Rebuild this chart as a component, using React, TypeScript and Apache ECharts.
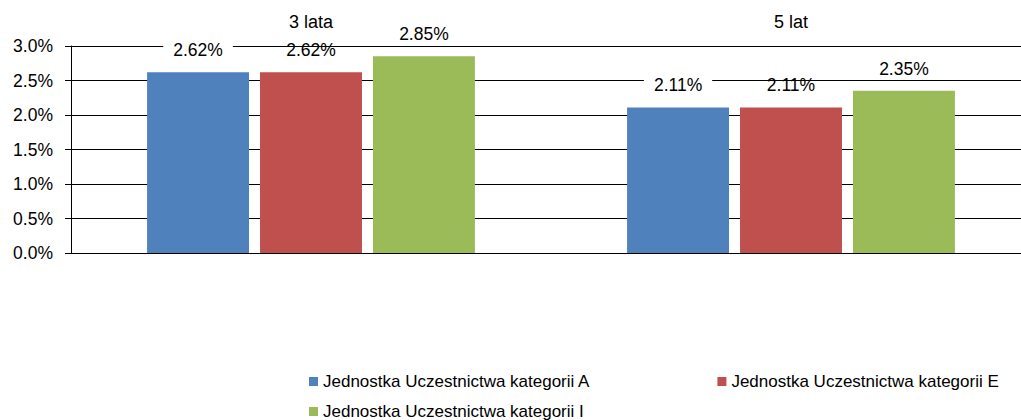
import React, { useEffect, useRef } from "react";
import * as echarts from "echarts";

const categories = ["3 lata", "5 lat"];
const seriesNames = [
  "Jednostka Uczestnictwa kategorii A",
  "Jednostka Uczestnictwa kategorii E",
  "Jednostka Uczestnictwa kategorii I",
];
const valuesA = [2.62, 2.11];
const valuesE = [2.62, 2.11];
const valuesI = [2.85, 2.35];
const colors = ["#4F81BD", "#C0504D", "#9BBB59"];
const yMin = 0;
const yMax = 3;
const yInterval = 0.5;

const FONT = "'Liberation Sans', Arial, sans-serif";

export default function App() {
  const ref = useRef<HTMLDivElement>(null);
  useEffect(() => {
    if (!ref.current) return;
    const chart = echarts.init(ref.current, null, { renderer: "svg" });
    const allValues = [valuesA, valuesE, valuesI];
    const series = allValues.map((vals, i) => ({
      name: seriesNames[i],
      type: "bar",
      data: vals,
      barGap: "10.8%",
      barCategoryGap: "31.7%",
      itemStyle: { color: colors[i] },
      label: {
        show: true,
        position: "top",
        distance: i === 0 ? 11 : 13,
        formatter: (p: any) => p.value.toFixed(2) + "%",
        color: "#000",
        fontFamily: FONT,
        fontSize: 17.5,
        backgroundColor: i === 0 ? "#fff" : "transparent",
        padding: i === 0 ? [2, 10] : 0,
      },
    }));
    chart.setOption({
      animation: false,
      textStyle: { fontFamily: FONT },
      grid: { left: 71, right: 10, top: 46, bottom: 167, containLabel: false },
      legend: [
        {
          data: [seriesNames[0], seriesNames[1]],
          left: 309,
          top: 373,
          padding: 0,
          icon: "rect",
          itemWidth: 9,
          itemHeight: 9,
          itemGap: 127,
          textStyle: { fontSize: 17, color: "#000", fontFamily: FONT },
        },
        {
          data: [seriesNames[2]],
          left: 309,
          top: 403,
          padding: 0,
          icon: "rect",
          itemWidth: 9,
          itemHeight: 9,
          textStyle: { fontSize: 17, color: "#000", fontFamily: FONT },
        },
      ],
      xAxis: {
        type: "category",
        data: categories,
        position: "top",
        axisLine: { show: false },
        axisTick: { show: false },
        axisLabel: { margin: 15, fontSize: 18, color: "#000", fontFamily: FONT },
      },
      yAxis: {
        type: "value",
        min: yMin,
        max: yMax,
        interval: yInterval,
        axisLine: { show: true, lineStyle: { color: "#000", width: 1 } },
        axisTick: { show: true, length: 6, lineStyle: { color: "#000" } },
        axisLabel: {
          margin: 18,
          fontSize: 17.5,
          color: "#000",
          fontFamily: FONT,
          formatter: (v: number) => v.toFixed(1) + "%",
        },
        splitLine: { show: true, lineStyle: { color: "#000", width: 1 } },
      },
      series,
    });
    return () => chart.dispose();
  }, []);
  return (
    <div
      ref={ref}
      style={{ position: "fixed", left: 0, top: 0, width: 1041, height: 420, background: "#fff" }}
    />
  );
}
